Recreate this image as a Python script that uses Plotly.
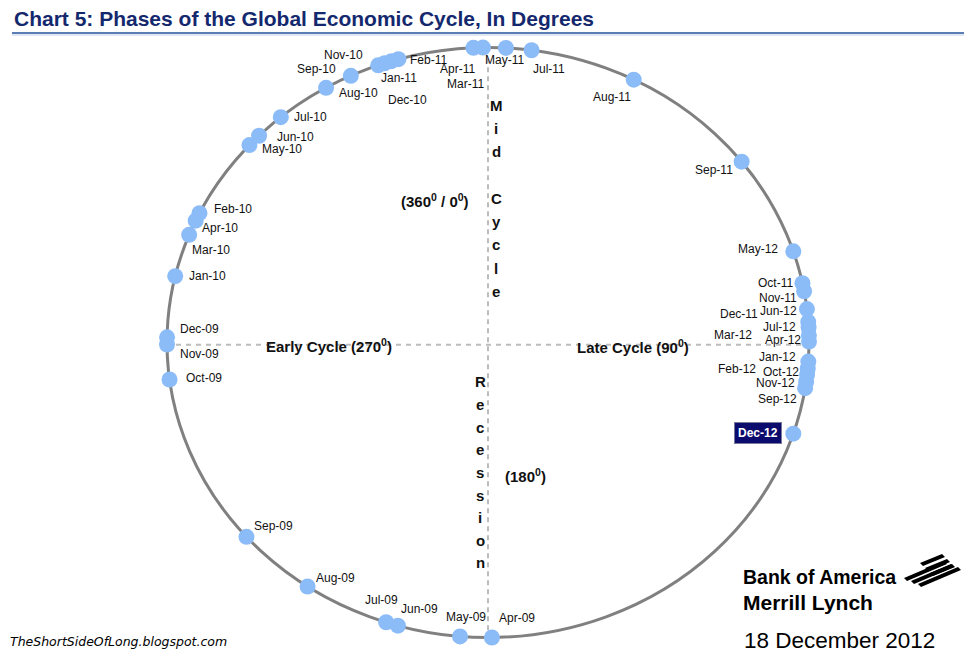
import math
import plotly.graph_objects as go

# ---- data: month labels and their phase angle (degrees, 0 = Mid Cycle at top, clockwise)
months = ["Apr-09", "May-09", "Jun-09", "Jul-09", "Aug-09", "Sep-09", "Oct-09", "Nov-09", "Dec-09",
          "Jan-10", "Feb-10", "Mar-10", "Apr-10", "May-10", "Jun-10", "Jul-10", "Aug-10", "Sep-10",
          "Nov-10", "Dec-10", "Jan-11", "Feb-11", "Mar-11", "Apr-11", "May-11", "Jul-11", "Aug-11",
          "Sep-11", "Oct-11", "Nov-11", "Dec-11", "Jan-12", "Feb-12", "Mar-12", "Apr-12", "May-12",
          "Jun-12", "Jul-12", "Sep-12", "Oct-12", "Nov-12", "Dec-12"]
degrees = [179.3, 185.0, 196.3, 198.5, 214.2, 228.8, 262.8, 269.6, 271.0,
           283.0, 296.0, 291.4, 294.4, 312.0, 314.5, 319.8, 329.7, 334.7,
           340.0, 341.2, 342.5, 343.8, 357.4, 359.1, 3.2, 7.8, 27.0,
           52.2, 78.4, 80.0, 86.0, 93.7, 95.1, 89.8, 88.6, 72.0,
           83.5, 87.1, 98.9, 96.3, 97.7, 108.0]

phase_labels = ["Early Cycle (270<sup>0</sup>)", "Late Cycle (90<sup>0</sup>)",
                "(360<sup>0</sup> / 0<sup>0</sup>)", "(180<sup>0</sup>)"]
vertical_labels = ["Mid Cycle", "Recession"]

# ---- styling: label offsets in pixels (dx right, dy down)
label_offsets = {
    "Apr-09": (25, -19), "May-09": (6, -19), "Jun-09": (22, -17), "Jul-09": (-5, -22),
    "Aug-09": (28, -8), "Sep-09": (27, -11), "Oct-09": (34, -1), "Nov-09": (32, 9),
    "Dec-09": (32, -8), "Jan-10": (32, 0), "Feb-10": (34, -4), "Mar-10": (22, 15),
    "Apr-10": (24, 7), "May-10": (33, 4), "Jun-10": (36, 1), "Jul-10": (30, 0),
    "Aug-10": (32, 5), "Sep-10": (-34, -7), "Nov-10": (-35, -10), "Dec-10": (23, 37),
    "Jan-11": (8, 17), "Feb-11": (30, 1), "Mar-11": (-8, 36), "Apr-11": (-25, 21),
    "May-11": (-1, 12), "Jul-11": (17, 19), "Aug-11": (-22, 17), "Sep-11": (-28, 8),
    "Oct-11": (-27, 0), "Nov-11": (-26, 7), "Dec-11": (-69, -8), "Jan-12": (-31, -5),
    "Feb-12": (-71, 0), "Mar-12": (-76, -6), "Apr-12": (-26, 5), "May-12": (-35, -2),
    "Jun-12": (-28, 2), "Jul-12": (-29, -1), "Sep-12": (-28, 11), "Oct-12": (-26, -3),
    "Nov-12": (-31, 1), "Dec-12": (-33, -1),
}

W, H = 976, 663
CX, CY = 488.0, 342.5   # ellipse centre in pixels
RX, RY = 321.0, 295.0   # ellipse radii in pixels

x0 = -CX / RX
x1 = (W - CX) / RX
ytop = CY / RY
ybot = -(H - CY) / RY

xs = [math.sin(math.radians(d)) for d in degrees]
ys = [math.cos(math.radians(d)) for d in degrees]

fig = go.Figure()
fig.add_trace(go.Scatter(
    x=xs, y=ys, mode="markers",
    marker=dict(size=16, color="#8cbcf8", line=dict(width=0)),
    hovertext=months, hoverinfo="text", showlegend=False,
))

shapes = [
    dict(type="line", xref="x", yref="y", x0=-0.972, x1=0.988, y0=-0.008, y1=-0.008,
         line=dict(color="#bcbcbc", width=2, dash="5px,5px"), layer="below"),
    dict(type="line", xref="x", yref="y", x0=0, x1=0, y0=-0.975, y1=0.975,
         line=dict(color="#bcbcbc", width=2, dash="5px,4px"), layer="below"),
    dict(type="circle", xref="x", yref="y", x0=-1, x1=1, y0=-1, y1=1,
         line=dict(color="#808080", width=3), layer="below"),
    # title underline
    dict(type="line", xref="paper", yref="paper", x0=12 / W, x1=964 / W,
         y0=1 - 33 / H, y1=1 - 33 / H, line=dict(color="#5b7db5", width=2)),
    dict(type="line", xref="paper", yref="paper", x0=12 / W, x1=964 / W,
         y0=1 - 35 / H, y1=1 - 35 / H, line=dict(color="#c5d2e6", width=1)),
]

# logo flag (Bank of America, simplified diagonal stripes)
def px(xp, yp):
    return f"{xp / W:.5f},{1 - yp / H:.5f}"

flag_stripes = []
for k in range(3):   # upper short stripes
    sx, sy = 920 + 5 * k, 563 + 5 * k
    flag_stripes.append([(sx, sy), (sx + 22, sy - 9), (sx + 25, sy - 6), (sx + 3, sy + 3)])
for k in range(3):   # lower long stripes
    sx, sy = 904 + 7 * k, 578 + 3 * k
    flag_stripes.append([(sx, sy), (sx + 40, sy - 17), (sx + 43, sy - 14), (sx + 3, sy + 3)])
for s in flag_stripes:
    path = "M " + " L ".join(px(a, b) for a, b in s) + " Z"
    shapes.append(dict(type="path", xref="paper", yref="paper", path=path,
                       fillcolor="#000000", line=dict(width=0)))

annotations = []
for m, x, y in zip(months, xs, ys):
    dx, dy = label_offsets[m]
    if m == "Dec-12":
        annotations.append(dict(
            x=x, y=y, xref="x", yref="y", text="<b>Dec-12</b>", showarrow=False,
            xshift=dx - 2, yshift=-dy, xanchor="center", yanchor="middle",
            font=dict(family="Liberation Sans, Arial", size=12, color="white"),
            bgcolor="#0b0b6e", bordercolor="#7a7a9a", borderwidth=1, borderpad=3,
        ))
    else:
        annotations.append(dict(
            x=x, y=y, xref="x", yref="y", text=m, showarrow=False,
            xshift=dx, yshift=-dy, xanchor="center", yanchor="middle",
            font=dict(family="Liberation Sans, Arial", size=12, color="#111111"),
        ))

def paper(xp, yp):
    return xp / W, 1 - yp / H

bold_font = dict(family="Liberation Sans, Arial", size=15, color="#111111")
phase_pos = [(329, 345), (633, 346), (435, 200), (525, 475)]
for t, (a, b) in zip(phase_labels, phase_pos):
    xp, yp = paper(a, b)
    annotations.append(dict(x=xp, y=yp, xref="paper", yref="paper", text=f"<b>{t}</b>",
                            xanchor="center", yanchor="middle",
                            showarrow=False, font=bold_font))

# vertical stacked words
vert_specs = [(496, 105, 23.3), (480, 382, 22.6)]
for word, (a, b0, step) in zip(vertical_labels, vert_specs):
    for i, ch in enumerate(word):
        if ch == " ":
            continue
        xp, yp = paper(a, b0 + i * step)
        annotations.append(dict(x=xp, y=yp, xref="paper", yref="paper", text=f"<b>{ch}</b>",
                                xanchor="center", yanchor="middle",
                                showarrow=False, font=bold_font))

# title
annotations.append(dict(
    x=12 / W, y=1 - 18 / H, xref="paper", yref="paper", xanchor="left", yanchor="middle",
    text="<b>Chart 5: Phases of the Global Economic Cycle, In Degrees</b>", showarrow=False,
    font=dict(family="Liberation Sans Narrow, Arial Narrow, Liberation Sans", size=21, color="#14286e"),
))
# source
annotations.append(dict(
    x=8 / W, y=1 - 641 / H, xref="paper", yref="paper", xanchor="left", yanchor="middle",
    text="<i>TheShortSideOfLong.blogspot.com</i>", showarrow=False,
    font=dict(family="DejaVu Sans", size=12.5, color="#000000"),
))
# logo text
annotations.append(dict(
    x=741 / W, y=1 - 577 / H, xref="paper", yref="paper", xanchor="left", yanchor="middle",
    text="<b>Bank of America</b>", showarrow=False,
    font=dict(family="Liberation Sans Narrow, Arial Narrow, Liberation Sans", size=19.5, color="#000000"),
))
annotations.append(dict(
    x=741 / W, y=1 - 602 / H, xref="paper", yref="paper", xanchor="left", yanchor="middle",
    text="<b>Merrill Lynch</b>", showarrow=False,
    font=dict(family="Liberation Sans Narrow, Arial Narrow, Liberation Sans", size=21, color="#000000"),
))
annotations.append(dict(
    x=742 / W, y=1 - 640 / H, xref="paper", yref="paper", xanchor="left", yanchor="middle",
    text="18 December 2012", showarrow=False,
    font=dict(family="Liberation Sans, Arial", size=22.5, color="#000000"),
))

fig.update_layout(
    width=W, height=H,
    margin=dict(l=0, r=0, t=0, b=0),
    paper_bgcolor="white", plot_bgcolor="white",
    xaxis=dict(range=[x0, x1], visible=False, fixedrange=True),
    yaxis=dict(range=[ybot, ytop], visible=False, fixedrange=True),
    shapes=shapes, annotations=annotations, showlegend=False,
)

fig.write_html("out.html")
